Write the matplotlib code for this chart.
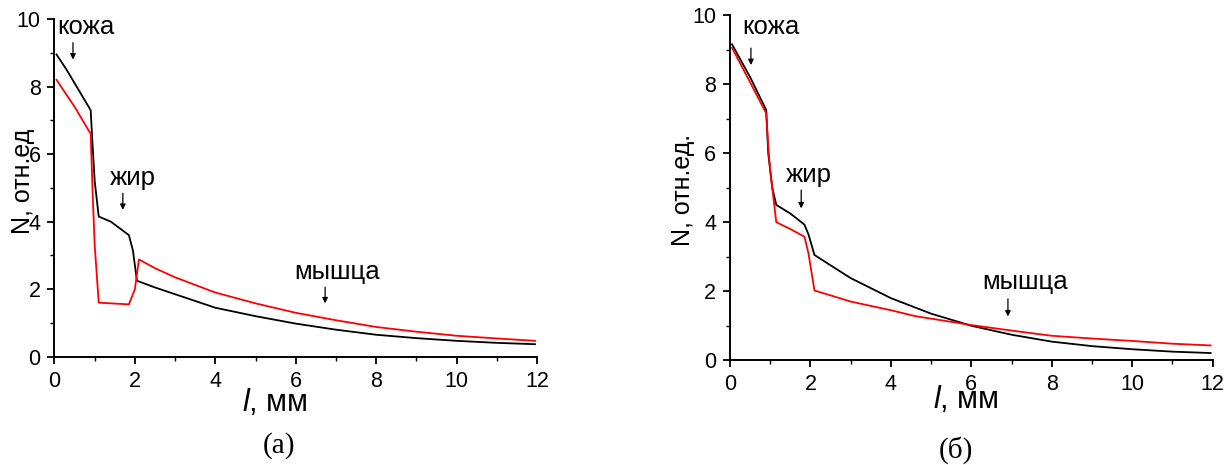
import numpy as np
import matplotlib
matplotlib.use("Agg")
from matplotlib import pyplot as plt
from matplotlib.ticker import MultipleLocator

# panel (a)
xa_black = [0.05, 0.3, 0.6, 0.9, 0.95, 1.0, 1.1, 1.4, 1.85, 1.95, 2.05, 2.5, 3, 4, 5, 6, 7, 8, 9, 10, 11, 11.95]
ya_black = [8.95, 8.5, 7.9, 7.3, 6.2, 5.2, 4.15, 4.0, 3.6, 3.15, 2.25, 2.05, 1.85, 1.45, 1.2, 0.98, 0.8, 0.65, 0.55, 0.47, 0.41, 0.37]
xa_red = [0.05, 0.5, 0.9, 0.95, 1.0, 1.1, 1.85, 2.0, 2.1, 2.5, 3, 4, 5, 6, 7, 8, 9, 10, 11, 11.95]
ya_red = [8.2, 7.4, 6.6, 4.8, 3.3, 1.6, 1.55, 2.0, 2.88, 2.62, 2.35, 1.9, 1.58, 1.3, 1.08, 0.88, 0.74, 0.62, 0.54, 0.47]

# panel (b)
xb_black = [0.05, 0.5, 0.9, 0.95, 1.05, 1.15, 1.5, 1.85, 1.95, 2.1, 2.5, 3, 4, 5, 6, 7, 8, 9, 10, 11, 11.95]
yb_black = [9.15, 8.2, 7.25, 6.0, 5.0, 4.5, 4.25, 3.93, 3.65, 3.05, 2.75, 2.38, 1.8, 1.35, 1.0, 0.74, 0.54, 0.41, 0.32, 0.25, 0.21]
xb_red = [0.05, 0.5, 0.9, 0.95, 1.0, 1.15, 1.5, 1.85, 1.95, 2.1, 2.5, 3, 4, 4.6, 6, 7, 8, 9, 10, 11, 11.95]
yb_red = [9.05, 8.05, 7.15, 6.2, 5.5, 4.0, 3.8, 3.58, 3.1, 2.02, 1.88, 1.7, 1.45, 1.28, 1.02, 0.86, 0.71, 0.63, 0.56, 0.48, 0.43]

ylabels = ["N, отн.ед", "N, отн.ед."]
captions = ["(а)", "(б)"]
tissues = ["кожа", "жир", "мышца"]

plt.rcParams['font.family'] = ['Liberation Sans', 'DejaVu Sans']
plt.rcParams['mathtext.fontset'] = 'custom'
plt.rcParams['mathtext.it'] = 'Liberation Sans:italic'
plt.rcParams['mathtext.rm'] = 'Liberation Sans'


def setup(ax, ylabel, ylab_pos, xlab_pos):
    ax.set_xlim(0, 12)
    ax.set_ylim(0, 10)
    for s in ['top', 'right']:
        ax.spines[s].set_visible(False)
    for s in ['left', 'bottom']:
        ax.spines[s].set_linewidth(1.4)
    ax.xaxis.set_major_locator(MultipleLocator(2))
    ax.xaxis.set_minor_locator(MultipleLocator(1))
    ax.yaxis.set_major_locator(MultipleLocator(2))
    ax.yaxis.set_minor_locator(MultipleLocator(1))
    ax.tick_params(which='major', direction='out', length=5, width=1.3, labelsize=15.5, pad=5)
    ax.tick_params(which='minor', direction='out', length=3, width=1.0)
    ax.set_ylabel(ylabel, fontsize=18)
    ax.yaxis.set_label_coords(*ylab_pos)
    ax.yaxis.label.set_verticalalignment('center')
    ax.set_xlabel(r"$\it{l}$, мм", fontsize=22)
    ax.xaxis.set_label_coords(*xlab_pos)
    ax.xaxis.label.set_verticalalignment('center')


def note(ax, text, tx, ty, ax_, y0, y1):
    ax.text(tx, ty, text, fontsize=18.5, ha='left', va='center')
    ax.annotate("", xy=(ax_, y1), xytext=(ax_, y0),
                arrowprops=dict(arrowstyle='-|>', color='black', lw=0.9,
                                mutation_scale=8, shrinkA=0, shrinkB=0))


fig = plt.figure(figsize=(12.3, 4.65), dpi=100)
ax1 = fig.add_axes([0.0443, 0.2329, 0.3923, 0.7262])
ax2 = fig.add_axes([0.5935, 0.2252, 0.3924, 0.7426])

ax1.plot(xa_black, ya_black, color='black', lw=1.3)
ax1.plot(xa_red, ya_red, color='red', lw=1.3)
setup(ax1, ylabels[0], (-0.065, 0.52), (0.457, -0.137))
note(ax1, tissues[0], 0.08, 9.75, 0.46, 9.3, 8.8)
note(ax1, tissues[1], 1.38, 5.29, 1.7, 4.84, 4.35)
note(ax1, tissues[2], 5.96, 2.5, 6.73, 2.06, 1.58)

ax2.plot(xb_black, yb_black, color='black', lw=1.3)
ax2.plot(xb_red, yb_red, color='red', lw=1.3)
setup(ax2, ylabels[1], (-0.097, 0.493), (0.489, -0.115))
note(ax2, tissues[0], 0.3, 9.65, 0.52, 9.04, 8.55)
note(ax2, tissues[1], 1.39, 5.37, 1.77, 4.93, 4.4)
note(ax2, tissues[2], 6.27, 2.27, 6.91, 1.78, 1.27)

fig.text(0.227, 0.041, captions[0], family='Liberation Serif', fontsize=21, ha='center', va='center')
fig.text(0.777, 0.032, captions[1], family='Liberation Serif', fontsize=21, ha='center', va='center')

fig.savefig("out.png", dpi=100)
